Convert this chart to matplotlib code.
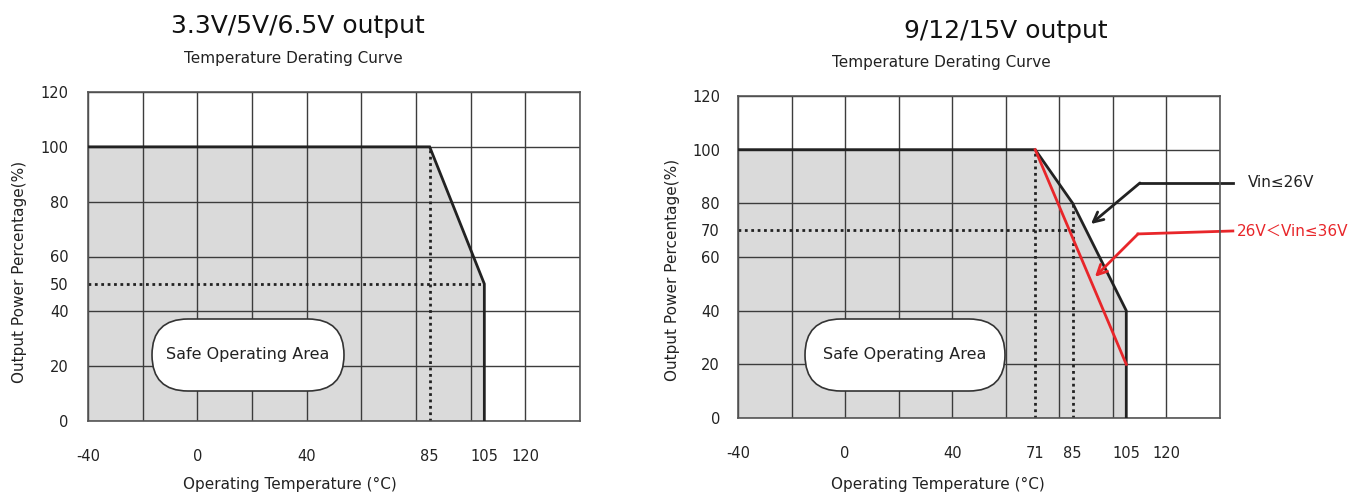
import matplotlib
matplotlib.use("Agg")
import matplotlib.pyplot as plt
from matplotlib.ticker import MultipleLocator
from matplotlib.patches import FancyBboxPatch

# ---------------- data ----------------
left_title = "3.3V/5V/6.5V output"
right_title = "9/12/15V output"
subtitle = "Temperature Derating Curve"
xlabel = "Operating Temperature (°C)"
ylabel = "Output Power Percentage(%)"
soa_text = "Safe Operating Area"

left_xticks = [-40, 0, 40, 85, 105, 120]
left_yticks = [0, 20, 40, 50, 60, 80, 100, 120]
right_xticks = [-40, 0, 40, 71, 85, 105, 120]
right_yticks = [0, 20, 40, 60, 70, 80, 100, 120]

left_temp = [-40, 85, 105, 105]
left_power = [100, 100, 50, 0]

right_black_temp = [-40, 71, 85, 105, 105]
right_black_power = [100, 100, 80, 40, 0]
right_red_temp = [71, 105]
right_red_power = [100, 20]

# dotted guides: (x0, x1, y0, y1)
left_guides = [(-40, 105, 50, 50), (85, 85, 0, 100)]
right_guides = [(-40, 85, 70, 70), (71, 71, 0, 100), (85, 85, 0, 80)]

label_black = "Vin≤26V"
label_red = "26V＜Vin≤36V"

# ---------------- style ----------------
FILL = "#dadada"
GRID = "#3c3c3c"
LINE = "#222222"
RED = "#e8262a"
plt.rcParams['font.family'] = ['DejaVu Sans', 'Noto Sans CJK SC']
plt.rcParams['axes.unicode_minus'] = False

W, H = 1348, 497
fig = plt.figure(figsize=(W / 100, H / 100), dpi=100)

def px_axes(x0, x1, y0, y1):
    return fig.add_axes([x0 / W, 1 - y1 / H, (x1 - x0) / W, (y1 - y0) / H])

axL = px_axes(88, 580, 92, 421)
axR = px_axes(738, 1220, 96, 418)


def setup(ax, xticks, yticks, ypad, xpad):
    ax.set_xlim(-40, 140)
    ax.set_ylim(0, 120)
    ax.xaxis.remove_overlapping_locs = False
    ax.yaxis.remove_overlapping_locs = False
    ax.xaxis.set_minor_locator(MultipleLocator(20))
    ax.yaxis.set_minor_locator(MultipleLocator(20))
    ax.set_xticks(xticks)
    ax.set_yticks(yticks)
    ax.tick_params(which='both', length=0)
    ax.tick_params(axis='y', which='major', pad=ypad, labelsize=10.5, labelcolor='#222')
    ax.tick_params(axis='x', which='major', pad=xpad, labelsize=10.5, labelcolor='#222')
    ax.grid(which='minor', color=GRID, lw=1.0)
    ax.grid(which='major', visible=False)
    ax.set_axisbelow('line')
    for s in ax.spines.values():
        s.set_color('#555')
        s.set_linewidth(1.2)


setup(axL, left_xticks, left_yticks, 14, 20)
setup(axR, right_xticks, right_yticks, 13, 20)

# ---- left chart ----
axL.fill(left_temp + [left_temp[0]], left_power + [0], color=FILL, zorder=1, lw=0)
axL.plot(left_temp, left_power, color=LINE, lw=2.0, zorder=3, solid_joinstyle='miter')
for x0, x1, y0, y1 in left_guides:
    axL.plot([x0, x1], [y0, y1], color=LINE, lw=2.0, ls=(0, (1, 1.3)), zorder=2.5)

# ---- right chart ----
axR.fill(right_black_temp + [right_black_temp[0]], right_black_power + [0],
         color=FILL, zorder=1, lw=0)
for x0, x1, y0, y1 in right_guides:
    axR.plot([x0, x1], [y0, y1], color=LINE, lw=2.0, ls=(0, (1, 1.3)), zorder=2.5)
axR.plot(right_black_temp, right_black_power, color=LINE, lw=2.0, zorder=3)
axR.plot(right_red_temp, right_red_power, color=RED, lw=2.0, zorder=3.2)

# annotations with bent leader arrows
axR.plot([144.8, 110.1], [87.6, 87.6], color=LINE, lw=2.0, clip_on=False)
axR.annotate("", xy=(91.8, 72.3), xytext=(110.1, 87.6),
             arrowprops=dict(arrowstyle='->,head_length=0.7,head_width=0.35',
                             color=LINE, lw=2.0, shrinkA=0, shrinkB=0),
             annotation_clip=False)
axR.text(150.4, 87.6, label_black, color='#222', fontsize=11, va='center', ha='left',
         family=['DejaVu Sans', 'Noto Sans CJK SC'], clip_on=False)

axR.plot([144.8, 109.4], [69.7, 68.6], color=RED, lw=2.0, clip_on=False)
axR.annotate("", xy=(93.3, 52.6), xytext=(109.4, 68.6),
             arrowprops=dict(arrowstyle='->,head_length=0.7,head_width=0.35',
                             color=RED, lw=2.0, shrinkA=0, shrinkB=0),
             annotation_clip=False)
axR.text(146.3, 69.5, label_red, color=RED, fontsize=11, va='center', ha='left',
         family=['DejaVu Sans', 'Noto Sans CJK SC'], clip_on=False)

# ---- safe operating area pills ----
def pill(ax, cx, cy, wpx, hpx, axw, axh):
    w = wpx / axw
    h = hpx / axh
    r = (hpx / 2) / axw
    p = FancyBboxPatch((cx - w / 2, cy - h / 2), w, h,
                       boxstyle=f"round,pad=0,rounding_size={r}",
                       mutation_aspect=axw / axh, transform=ax.transAxes,
                       facecolor='white', edgecolor='#333', lw=1.2, zorder=4)
    ax.add_patch(p)
    ax.text(cx, cy, soa_text, transform=ax.transAxes, ha='center', va='center',
            fontsize=11.5, color='#222', zorder=5)

pill(axL, (248 - 88) / 492, (421 - 355) / 329, 192, 72, 492, 329)
pill(axR, (905 - 738) / 482, (418 - 355) / 322, 200, 72, 482, 322)

# ---- labels ----
for ax in (axL, axR):
    ax.set_xlabel(xlabel, fontsize=11, color='#222')
    ax.set_ylabel(ylabel, fontsize=11, color='#222')

axL.xaxis.set_label_coords((290 - 88) / 492, (421 - 477) / 329)
axR.xaxis.set_label_coords((938 - 738) / 482, (418 - 477) / 322)
axL.yaxis.set_label_coords((27 - 88) / 492, (421 - 272) / 329)
axR.yaxis.set_label_coords((680 - 738) / 482, (418 - 270) / 322)

fig.text(298 / W, 1 - 26 / H, left_title, fontsize=18, ha='center', va='center', color='#111')
fig.text(293 / W, 1 - 58 / H, subtitle, fontsize=11, ha='center', va='center', color='#222')
fig.text(1006 / W, 1 - 31 / H, right_title, fontsize=18, ha='center', va='center', color='#111')
fig.text(941 / W, 1 - 63 / H, subtitle, fontsize=11, ha='center', va='center', color='#222')

fig.savefig("out.png", dpi=100)
